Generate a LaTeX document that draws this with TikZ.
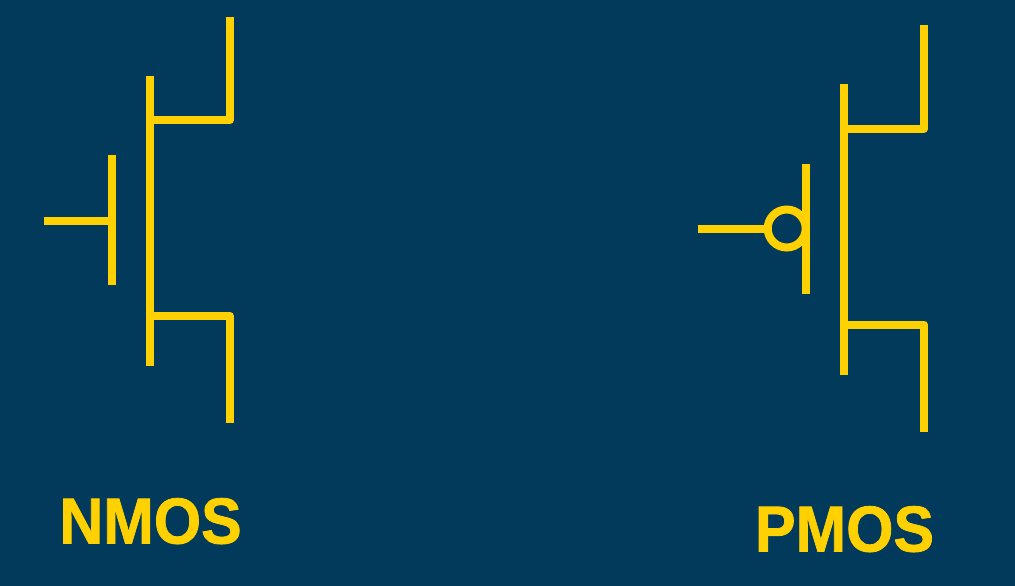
\documentclass[tikz,border=0pt]{standalone}
\usepackage{fontspec}
\setmainfont{Liberation Sans}
\newfontfamily\capfont[BoldFeatures={FakeBold=1.2}]{Liberation Sans}
\definecolor{bgblue}{HTML}{023A5C}
\definecolor{symyellow}{HTML}{FFD100}
\tikzset{
  wire/.style={draw=symyellow,line width=8pt,line join=round,line cap=butt},
  bubble/.style={circle,draw=symyellow,fill=bgblue,line width=8pt,inner sep=0pt,minimum size=38pt,outer sep=0pt},
  caption/.style={text=symyellow,font=\capfont\bfseries\fontsize{65}{65}\selectfont,inner sep=0pt,anchor=base,xscale=0.935,transform shape}
}
\begin{document}
\begin{tikzpicture}[x=1pt,y=-1pt]
\fill[bgblue] (0,0) rectangle (1015,586);
\useasboundingbox (0,0) rectangle (1015,586);
% NMOS
\coordinate (nct) at (150,76);
\coordinate (ncb) at (150,366);
\coordinate (ngt) at (112,155);
\coordinate (ngb) at (112,285);
\coordinate (ngm) at (112,221);
\coordinate (nin) at (44,221);
\coordinate (nd0) at (150,120);
\coordinate (nd1) at (230,120);
\coordinate (nd2) at (230,17);
\coordinate (ns0) at (146,316);
\coordinate (ns1) at (230,316);
\coordinate (ns2) at (230,423);
\draw[wire] (nct) -- (ncb);
\draw[wire] (ngt) -- (ngb);
\draw[wire] (nin) -- (ngm);
\draw[wire] (nd0) -- (nd1) -- (nd2);
\draw[wire] (ns0) -- (ns1) -- (ns2);
\node[caption] (nlabel) at (150.5,543.5) {NMOS};
% PMOS
\coordinate (pct) at (844.3,84.5);
\coordinate (pcb) at (844.3,374.5);
\coordinate (pgt) at (806,163.5);
\coordinate (pgb) at (806,293.5);
\coordinate (pin) at (698,228.5);
\coordinate (pd0) at (844.3,128.5);
\coordinate (pd1) at (924,128.5);
\coordinate (pd2) at (924,25.5);
\coordinate (ps0) at (840.3,324.5);
\coordinate (ps1) at (924,324.5);
\coordinate (ps2) at (924,431.5);
\draw[wire] (pct) -- (pcb);
\draw[wire] (pgt) -- (pgb);
\node[bubble] (pbub) at (786.7,228.5) {};
\draw[wire] (pin) -- (pbub.west);
\draw[wire] (pd0) -- (pd1) -- (pd2);
\draw[wire] (ps0) -- (ps1) -- (ps2);
\node[caption] (plabel) at (844.5,551.5) {PMOS};
\end{tikzpicture}
\end{document}
